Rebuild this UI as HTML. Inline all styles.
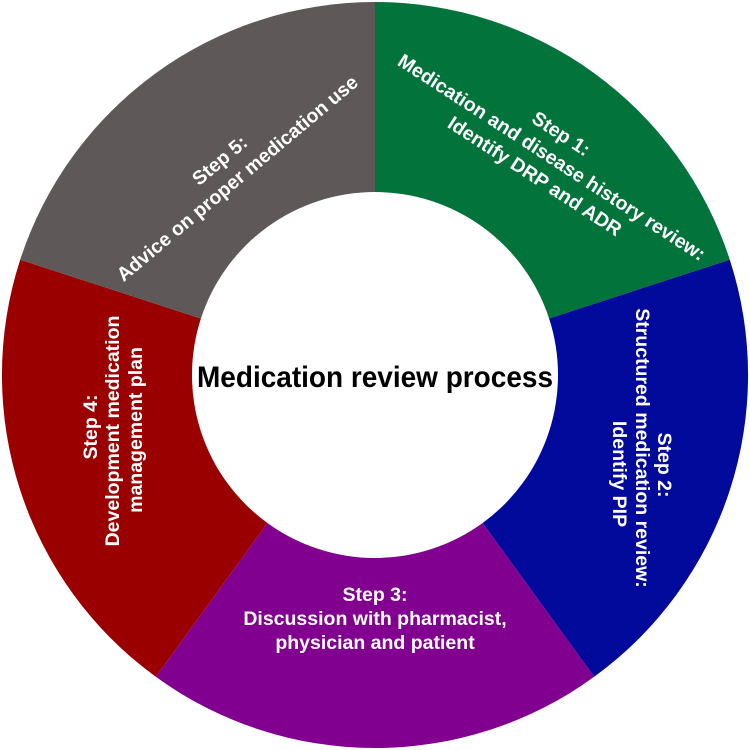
<!DOCTYPE html>
<html><head><meta charset="utf-8"><style>html,body{margin:0;padding:0;background:#fff}svg{display:block}</style></head>
<body>
<svg width="750" height="750" viewBox="0 0 750 750" xmlns="http://www.w3.org/2000/svg">
<g>
<path d="M375,2 A373,373 0 0 1 729.8,259.7 L549.1,318.5 A183,183 0 0 0 375,192 Z" fill="#02733a"/>
<path d="M729.8,259.7 A373,373 0 0 1 594.2,676.8 L482.6,523 A183,183 0 0 0 549.1,318.5 Z" fill="#020a9c"/>
<path d="M594.2,676.8 A373,373 0 0 1 155.8,676.8 L267.4,523 A183,183 0 0 0 482.6,523 Z" fill="#810090"/>
<path d="M155.8,676.8 A373,373 0 0 1 20.2,259.7 L200.9,318.5 A183,183 0 0 0 267.4,523 Z" fill="#9a0000"/>
<path d="M20.2,259.7 A373,373 0 0 1 375,2 L375,192 A183,183 0 0 0 200.9,318.5 Z" fill="#5e5858"/>
</g>
<g font-family="Liberation Sans, sans-serif" font-weight="bold" font-size="19.5" fill="#fff" text-anchor="middle">
<g transform="translate(552,157) rotate(33)">
<text x="-5" y="-18">Step 1:</text>
<text x="0" y="7">Medication and disease history review:</text>
<text x="-4" y="32">Identify DRP and ADR</text>
</g>
<g transform="translate(237,178) rotate(-40)">
<text x="-2" y="-18">Step 5:</text>
<text x="0" y="7">Advice on proper medication use</text>
</g>
<g transform="translate(665,465) rotate(90)"><text x="0" y="7">Step 2:</text></g>
<g transform="translate(643,448) rotate(90)"><text x="0" y="7">Structured medication review:</text></g>
<g transform="translate(620,474) rotate(90)"><text x="0" y="7">Identify  PIP</text></g>
<g transform="translate(90,427) rotate(-90)"><text x="0" y="7">Step 4:</text></g>
<g transform="translate(112,431) rotate(-90)"><text x="0" y="7">Development medication</text></g>
<g transform="translate(135,430) rotate(-90)"><text x="0" y="7">management plan</text></g>
<text x="375" y="601">Step 3:</text>
<text x="375" y="625">Discussion with pharmacist,</text>
<text x="375" y="649">physician and patient</text>
</g>
<text x="375" y="387" font-family="Liberation Sans Narrow, Liberation Sans, sans-serif" font-weight="bold" font-size="30" fill="#000" text-anchor="middle" textLength="356" lengthAdjust="spacingAndGlyphs">Medication review process</text>
</svg>
</body></html>
